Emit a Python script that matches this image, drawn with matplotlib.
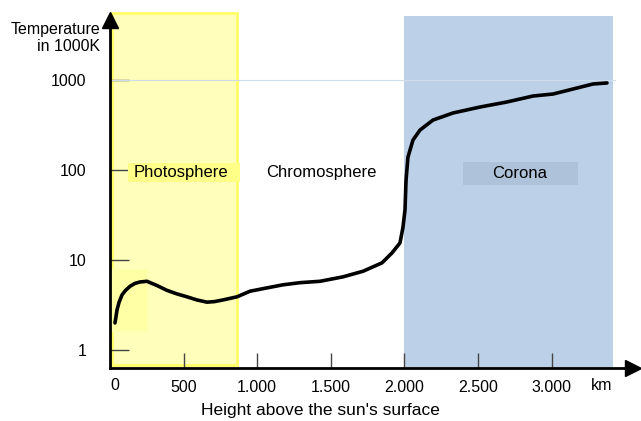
import numpy as np
import matplotlib
matplotlib.use('Agg')
import matplotlib.pyplot as plt
from matplotlib.patches import Rectangle

plt.rcParams['font.family'] = ['Liberation Sans', 'DejaVu Sans']

# temperature profile (height in km, temperature in 1000K)
height_km = [34, 40, 48, 62, 82, 106, 136, 170, 204, 251, 320, 387, 455, 523,
             590, 659, 710, 768, 863, 951, 1067, 1175, 1291, 1427, 1583, 1719,
             1848, 1916, 1970, 1990, 2004, 2011, 2024, 2058, 2106, 2194, 2330,
             2514, 2697, 2874, 3010, 3173, 3281, 3376]
temp_k1000 = [2.0, 2.3, 2.8, 3.4, 4.1, 4.6, 5.1, 5.5, 5.7, 5.8, 5.2, 4.6, 4.2, 3.9,
              3.6, 3.4, 3.45, 3.6, 3.9, 4.5, 4.9, 5.3, 5.6, 5.8, 6.5, 7.5,
              9.3, 12.0, 15.5, 23, 36, 77, 139, 215, 278, 359, 430,
              501, 570, 664, 699, 815, 903, 927]

x_ticks = [500, 1000, 1500, 2000, 2500, 3000]
x_labels = ['500', '1.000', '1.500', '2.000', '2.500', '3.000']
y_ticks = [1, 10, 100, 1000]
y_labels = ['1', '10', '100', '1000']

# layers: start / end in km
photosphere = (14, 860)
corona = (2000, 3415)

fig = plt.figure(figsize=(6.41, 4.21), dpi=100)
ax = fig.add_axes([0, 0, 1, 1])
ax.set_yscale('log')
ax.set_xlim(-747, 3607)
ax.set_ylim(10 ** (-71 / 90), 10 ** (350 / 90))

ybot = 10 ** (-18 / 90)   # where the x axis sits
ytop = 10 ** (337 / 90)

# shaded layers
ax.add_patch(Rectangle((photosphere[0], 10 ** (-15 / 90)), photosphere[1] - photosphere[0],
                       ytop - 10 ** (-15 / 90), facecolor='#ffffbb', edgecolor='#ffff66',
                       lw=2, zorder=1))
ax.add_patch(Rectangle((corona[0], ybot), corona[1] - corona[0], 10 ** (334 / 90) - ybot,
                       facecolor='#bcd1e8', edgecolor='none', zorder=1))
ax.add_patch(Rectangle((0, 10 ** (19 / 90)), 250, 10 ** (81 / 90) - 10 ** (19 / 90),
                       facecolor='#ffffa6', edgecolor='#ffffb0', lw=1, zorder=1))

# label boxes
ax.add_patch(Rectangle((122, 10 ** (168 / 90)), 761, 10 ** (187 / 90) - 10 ** (168 / 90),
                       facecolor='#ffff88', edgecolor='none', zorder=2))
ax.add_patch(Rectangle((2398, 10 ** (165 / 90)), 781, 10 ** (188 / 90) - 10 ** (165 / 90),
                       facecolor='#aec2da', edgecolor='none', zorder=2))

# 1000 reference line
ax.plot([0, 3430], [1000, 1000], color='#cfdcea', lw=0.8, zorder=2)

# temperature curve
ax.plot(height_km, temp_k1000, color='black', lw=2.6, solid_capstyle='round',
        solid_joinstyle='round', zorder=4)

# axes with arrows
ax.spines[['top', 'right']].set_visible(False)
ax.spines['left'].set_position(('data', 0))
ax.spines['bottom'].set_position(('data', ybot))
ax.spines['left'].set_bounds(ybot, 10 ** (325 / 90))
ax.spines['bottom'].set_bounds(0, 3540)
for s in ('left', 'bottom'):
    ax.spines[s].set_linewidth(2)
    ax.spines[s].set_zorder(5)
ax.plot([0], [10 ** (330 / 90)], marker='^', ms=11, color='black', clip_on=False, zorder=6)
ax.plot([3550], [ybot], marker='>', ms=11, color='black', clip_on=False, zorder=6)

ax.set_xticks(x_ticks, x_labels)
ax.set_yticks(y_ticks, y_labels)
ax.minorticks_off()
ax.tick_params(axis='x', direction='in', length=11, width=1, color='#444444',
               labelsize=11.5, pad=9)
ax.tick_params(axis='y', direction='in', length=14, width=1, color='#444444',
               labelsize=11.5, pad=17)
ax.text(30, 10 ** (-36 / 90), '0', ha='center', va='center', fontsize=11.5)
ax.text(3340, 10 ** (-36 / 90), 'km', ha='center', va='center', fontsize=11.5)

# layer labels
ylab = 10 ** (177 / 90)
ax.text(480, ylab, 'Photosphere', ha='center', va='center', fontsize=12, zorder=3)
ax.text(1435, ylab, 'Chromosphere', ha='center', va='center', fontsize=12, zorder=3)
ax.text(2785, ylab, 'Corona', ha='center', va='center', fontsize=12, zorder=3)

fig.text(100 / 641, 1 - 38 / 421, 'Temperature\nin 1000K', ha='right', va='center',
         fontsize=11.5, linespacing=1.1)
fig.text(320 / 641, 1 - 411 / 421, "Height above the sun's surface", ha='center',
         va='center', fontsize=12.5)

fig.savefig('out.png', dpi=100)
